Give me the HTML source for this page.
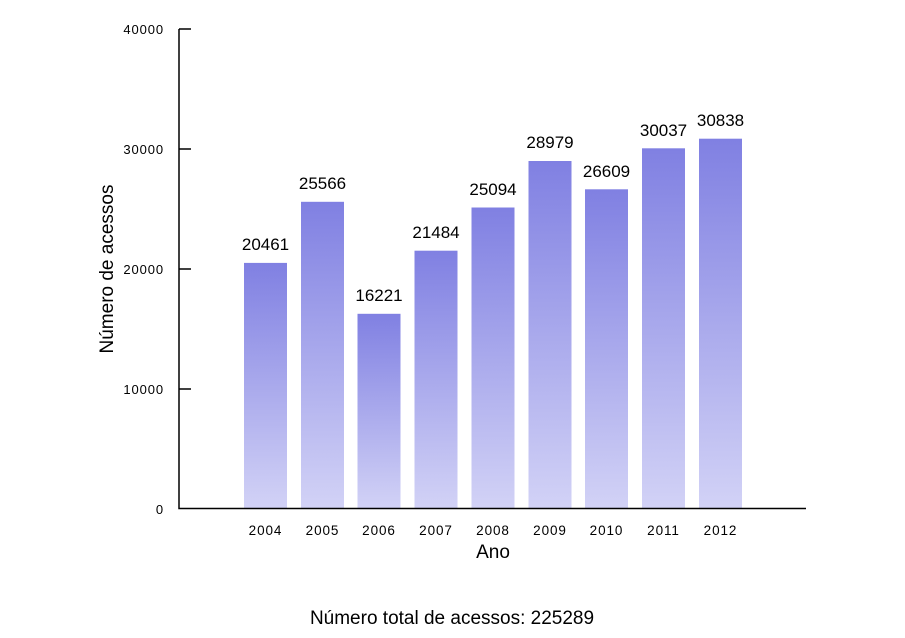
<!DOCTYPE html>
<html><head><meta charset="utf-8"><style>body{margin:0;background:#fff}svg{display:block}</style></head><body>
<svg width="905" height="638" xmlns="http://www.w3.org/2000/svg" font-family="Liberation Sans, sans-serif">
<defs><linearGradient id="g" x1="0" y1="0" x2="0" y2="1"><stop offset="0" stop-color="#8080e2"/><stop offset="1" stop-color="#d2d2f6"/></linearGradient></defs>
<g fill="url(#g)">
<rect x="244" y="262.9" width="43" height="245.1"/>
<rect x="301" y="201.8" width="43" height="306.2"/>
<rect x="357.5" y="313.8" width="43" height="194.2"/>
<rect x="414.5" y="250.7" width="43" height="257.3"/>
<rect x="471.5" y="207.5" width="43" height="300.5"/>
<rect x="528.5" y="161" width="43" height="347"/>
<rect x="585" y="189.3" width="43" height="318.7"/>
<rect x="642" y="148.3" width="43" height="359.7"/>
<rect x="699" y="138.7" width="43" height="369.3"/>
</g>
<g stroke="#000" stroke-width="1.5" fill="none">
<path d="M179 29V508.5H806"/>
<path d="M179 29H191M179 149H191M179 269H191M179 389H191"/>
</g>
<g font-size="13" text-anchor="end" letter-spacing="0.9">
<text x="164" y="34">40000</text><text x="164" y="154">30000</text><text x="164" y="274">20000</text><text x="164" y="394">10000</text><text x="164" y="514">0</text>
</g>
<g font-size="13.5" text-anchor="middle" letter-spacing="0.9">
<text x="265.5" y="535">2004</text><text x="322.5" y="535">2005</text><text x="379" y="535">2006</text><text x="436" y="535">2007</text><text x="493" y="535">2008</text><text x="550" y="535">2009</text><text x="606.5" y="535">2010</text><text x="663.5" y="535">2011</text><text x="720.5" y="535">2012</text>
</g>
<g font-size="17" text-anchor="middle">
<text x="265.5" y="250">20461</text><text x="322.5" y="189">25566</text><text x="379" y="301">16221</text><text x="436" y="238">21484</text><text x="493" y="195">25094</text><text x="550" y="148">28979</text><text x="606.5" y="177">26609</text><text x="663.5" y="136">30037</text><text x="720.5" y="126">30838</text>
</g>
<g font-size="19" text-anchor="middle">
<text x="493" y="558">Ano</text>
<text x="452" y="624">Número total de acessos: 225289</text>
<text transform="translate(113,269) rotate(-90)">Número de acessos</text>
</g>
</svg>
</body></html>
